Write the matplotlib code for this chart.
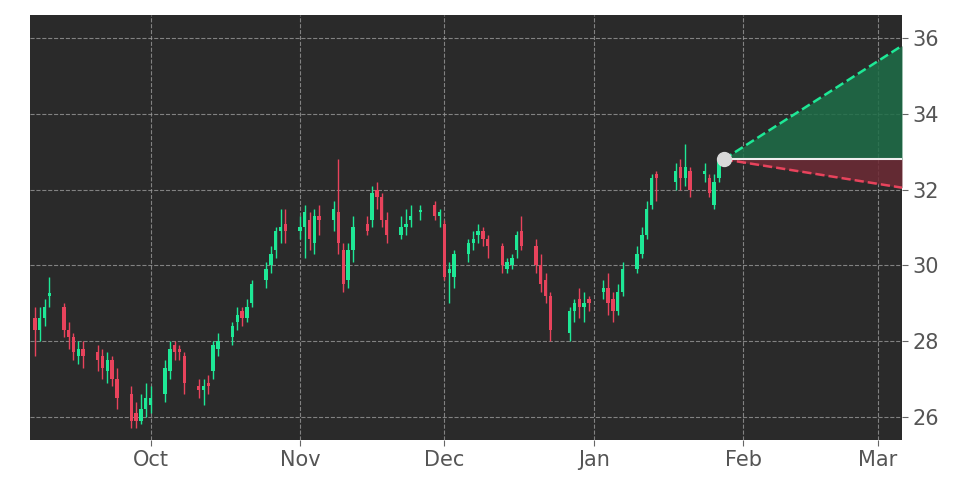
import matplotlib
matplotlib.use("Agg")
import matplotlib.pyplot as plt
import matplotlib.dates as mdates
import pandas as pd
import numpy as np

holidays = ["2021-11-25", "2021-12-24", "2022-01-17"]
dates = [d for d in pd.bdate_range("2021-09-07", "2022-01-27") if str(d.date()) not in holidays]

opens = [28.6,28.3,28.6,29.2,28.9,28.3,28.1,27.6,27.8,27.7,27.6,27.2,27.5,27.0,26.6,26.1,25.9,26.2,
         26.3,26.6,27.2,27.9,27.8,27.6,26.8,26.7,26.9,27.2,27.8,28.1,28.5,28.8,28.6,29.0,29.6,30.0,30.4,30.9,31.1,
         30.9,31.0,31.2,30.6,31.3,31.2,31.4,30.4,29.6,30.4,31.1,31.2,32.0,31.8,31.2,30.8,31.0,31.2,31.4,31.6,31.3,
         31.1,29.8,29.7,30.3,30.6,30.8,30.9,30.7,30.5,29.9,30.0,30.4,30.9,30.5,30.0,29.6,29.2,28.2,28.8,29.1,28.9,29.1,
         29.3,29.4,29.1,28.8,29.3,29.9,30.3,30.8,31.6,32.4,32.2,32.6,32.3,32.5,32.4,32.3,31.6,32.3]
closes = [28.3,28.6,28.9,29.2,28.3,28.1,27.7,27.8,27.6,27.5,27.3,27.5,27.0,26.5,25.9,25.9,26.2,26.5,
          26.5,27.3,27.8,27.7,27.7,26.9,26.7,26.8,26.8,27.9,28.0,28.4,28.7,28.6,28.9,29.5,29.9,30.3,30.9,31.0,30.9,
          31.0,31.4,30.7,31.3,31.2,31.5,30.6,29.5,30.4,31.0,30.9,31.9,31.8,31.2,30.8,31.0,31.1,31.3,31.4,31.3,31.4,
          29.7,29.9,30.3,30.6,30.7,30.9,30.7,30.5,30.0,30.1,30.2,30.8,30.5,30.0,29.5,29.2,28.3,28.8,29.0,28.9,29.0,29.0,
          29.4,29.0,28.8,29.3,29.9,30.3,30.8,31.5,32.3,32.3,32.5,32.3,32.6,32.0,32.5,31.9,32.2,32.8]
highs = [28.9,28.9,29.1,29.7,29.0,28.5,28.2,28.0,28.0,27.9,27.8,27.7,27.6,27.3,26.8,26.4,26.6,26.9,
         26.8,27.5,28.0,28.0,27.9,27.7,27.0,27.0,27.1,28.0,28.2,28.5,28.9,28.9,29.1,29.6,30.1,30.5,31.0,31.5,31.5,
         31.3,31.6,31.4,31.5,31.6,31.7,32.8,30.6,30.6,31.3,31.3,32.1,32.2,31.9,31.4,31.3,31.5,31.6,31.6,31.7,31.5,
         31.2,30.1,30.4,30.7,30.9,31.1,31.0,30.8,30.6,30.2,30.3,30.9,31.3,30.7,30.3,29.8,29.3,28.9,29.1,29.4,29.3,29.2,
         29.6,29.8,29.3,29.5,30.1,30.5,31.0,31.7,32.4,32.5,32.7,32.8,33.2,32.6,32.7,32.4,32.4,32.9]
lows = [27.6,28.0,28.4,28.9,28.1,27.8,27.5,27.4,27.3,27.2,27.0,26.9,26.8,26.2,25.7,25.7,25.8,26.0,
        26.1,26.4,27.0,27.5,27.5,26.6,26.5,26.3,26.6,27.0,27.6,27.9,28.3,28.4,28.5,28.9,29.4,29.8,30.2,30.6,30.6,
        30.7,30.2,30.4,30.3,30.8,30.9,30.3,29.3,29.4,30.1,30.8,31.0,31.5,31.0,30.6,30.7,30.8,31.0,31.2,31.2,31.0,
        29.6,29.0,29.4,30.1,30.4,30.6,30.5,30.2,29.8,29.8,29.9,30.2,30.4,29.8,29.3,29.0,28.0,28.0,28.5,28.6,28.5,28.8,
        29.1,28.7,28.5,28.7,29.2,29.8,30.2,30.7,31.5,31.7,32.0,32.0,32.1,31.8,32.2,31.8,31.5,32.2]

proj_dates = ["2022-01-28", "2022-03-06"]
proj_start = 32.8
proj_upper = 35.8
proj_lower = 32.05

GREEN = "#1ee896"
RED = "#e8435c"

fig = plt.figure(figsize=(9.72, 4.86), dpi=100)
fig.patch.set_facecolor("white")
ax = fig.add_axes([0.031, 0.095, 0.897, 0.874])
ax.set_facecolor("#2a2a2a")

x = mdates.date2num(dates)
for xi, o, c, h, l in zip(x, opens, closes, highs, lows):
    col = GREEN if c >= o else RED
    ax.vlines(xi, l, h, color=col, linewidth=1, zorder=3)
    ax.bar(xi, max(abs(c - o), 0.06), bottom=min(o, c), width=0.7, color=col, zorder=4, linewidth=0)

px = mdates.date2num(pd.to_datetime(proj_dates))
ax.fill_between(px, [proj_start, proj_start], [proj_start, proj_upper], color="#1e6e48", alpha=0.85, zorder=2, linewidth=0)
ax.fill_between(px, [proj_start, proj_start], [proj_start, proj_lower], color="#6e2a35", alpha=0.85, zorder=2, linewidth=0)
ax.plot(px, [proj_start, proj_upper], color=GREEN, linestyle="--", linewidth=1.8, zorder=5)
ax.plot(px, [proj_start, proj_lower], color=RED, linestyle="--", linewidth=1.8, zorder=5)
ax.plot(px, [proj_start, proj_start], color="#eeeeee", linewidth=1.5, zorder=5)
ax.plot(px[0], proj_start, "o", color="#d9d9d9", markersize=10, zorder=6)

ax.set_xlim(mdates.date2num(pd.Timestamp("2021-09-06")), px[1])
ax.set_ylim(25.39, 36.61)
ax.xaxis.set_major_locator(mdates.MonthLocator())
ax.xaxis.set_major_formatter(mdates.DateFormatter("%b"))
ax.set_xticks(mdates.date2num(pd.to_datetime(["2021-10-01","2021-11-01","2021-12-01","2022-01-01","2022-02-01","2022-03-01"])))
ax.set_yticks([26, 28, 30, 32, 34, 36])
ax.yaxis.tick_right()
ax.tick_params(colors="#666666", labelsize=15, length=4)
ax.tick_params(axis="y", labelcolor="#555555")
ax.tick_params(axis="x", labelcolor="#555555")
ax.grid(True, color="#999999", linestyle="--", linewidth=0.8, alpha=0.8)
for s in ax.spines.values():
    s.set_visible(False)

fig.savefig("out.png", dpi=100, facecolor=fig.get_facecolor())
